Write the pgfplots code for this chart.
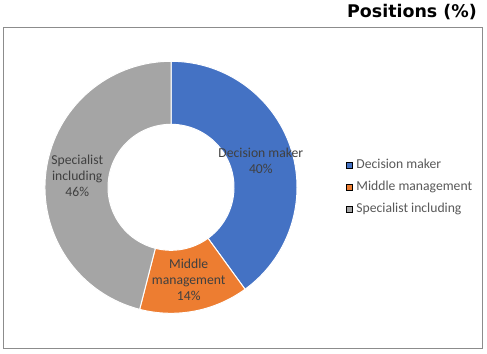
\documentclass[border=0pt]{standalone}
\usepackage{pgfplots}
\usepackage{pgfplotstable}
\pgfplotsset{compat=1.18}
\usepackage{fontspec}
\setmainfont{Carlito}
\newfontfamily\titlefont{DejaVu Sans}
\definecolor{cA}{HTML}{4472C4}
\definecolor{cB}{HTML}{ED7D31}
\definecolor{cC}{HTML}{A5A5A5}
\definecolor{lbl}{HTML}{404040}
\definecolor{leg}{HTML}{595959}
\definecolor{frm}{HTML}{8C8C8C}

\pgfplotstableread{
value
40
14
46
}\datatable

\begin{document}
\begin{tikzpicture}
\path[fill=white] (0bp,0bp) rectangle (487bp,354bp);
\draw[frm, line width=0.8bp] (3.5bp,6bp) rectangle (482bp,326.7bp);
\node[anchor=east, font=\titlefont\bfseries\fontsize{17.5}{20}\selectfont, inner sep=0pt] at (477bp,341.5bp) {Positions (\%)};
\pgfplotstablegetelem{0}{value}\of\datatable \let\vA\pgfplotsretval
\pgfplotstablegetelem{1}{value}\of\datatable \let\vB\pgfplotsretval
\pgfplotstablegetelem{2}{value}\of\datatable \let\vC\pgfplotsretval
\pgfmathsetmacro\aA{90}
\pgfmathsetmacro\aB{90-3.6*\vA}
\pgfmathsetmacro\aC{\aB-3.6*\vB}
\pgfmathsetmacro\aD{\aC-3.6*\vC}
\pgfmathsetmacro\mA{(\aA+\aB)/2}
\pgfmathsetmacro\mB{(\aB+\aC)/2}
\pgfmathsetmacro\mC{(\aC+\aD)/2}
\begin{axis}[at={(171bp,166.7bp)}, anchor=origin,
  width=252bp, height=252bp, scale only axis,
  xmin=-1, xmax=1, ymin=-1, ymax=1, hide axis, clip=false,
  legend image code/.code={\fill[#1] (0bp,-3bp) rectangle (5.5bp,3bp);},
  legend style={at={(axis cs:1.389,0)}, anchor=west, draw=none, fill=none,
    inner sep=0pt, outer sep=0pt, row sep=10bp,
    /tikz/every odd column/.append style={column sep=3.5bp},
    font=\fontsize{13.7}{16}\selectfont, text=leg,
    nodes={inner xsep=1bp, inner ysep=0bp, text height=9bp, text depth=3bp}},
  legend cell align=left]
\addlegendimage{fill=cA}\addlegendentry{Decision maker}
\addlegendimage{fill=cB}\addlegendentry{Middle management}
\addlegendimage{fill=cC}\addlegendentry{Specialist including}
\fill[cA, draw=white, line width=1bp] (axis cs:{cos(\aA)},{sin(\aA)}) arc[start angle=\aA, end angle=\aB, radius=126bp] -- (axis cs:{0.5*cos(\aB)},{0.5*sin(\aB)}) arc[start angle=\aB, end angle=\aA, radius=63bp] -- cycle;
\fill[cB, draw=white, line width=1bp] (axis cs:{cos(\aB)},{sin(\aB)}) arc[start angle=\aB, end angle=\aC, radius=126bp] -- (axis cs:{0.5*cos(\aC)},{0.5*sin(\aC)}) arc[start angle=\aC, end angle=\aB, radius=63bp] -- cycle;
\fill[cC, draw=white, line width=1bp] (axis cs:{cos(\aC)},{sin(\aC)}) arc[start angle=\aC, end angle=\aD, radius=126bp] -- (axis cs:{0.5*cos(\aD)},{0.5*sin(\aD)}) arc[start angle=\aD, end angle=\aC, radius=63bp] -- cycle;
\node[align=center, text=lbl, font=\fontsize{13.7}{16}\selectfont] at (axis cs:{0.75*cos(\mA)},{0.75*sin(\mA)-0.02}) {Decision maker\\\vA\%};
\node[align=center, text=lbl, font=\fontsize{13.7}{16}\selectfont] at (axis cs:{0.75*cos(\mB)},{0.75*sin(\mB)}) {Middle\\management\\\vB\%};
\node[align=center, text=lbl, font=\fontsize{13.7}{16}\selectfont] at (axis cs:{0.75*cos(\mC)},{0.75*sin(\mC)}) {Specialist\\including\\\vC\%};
\end{axis}
\end{tikzpicture}
\end{document}
